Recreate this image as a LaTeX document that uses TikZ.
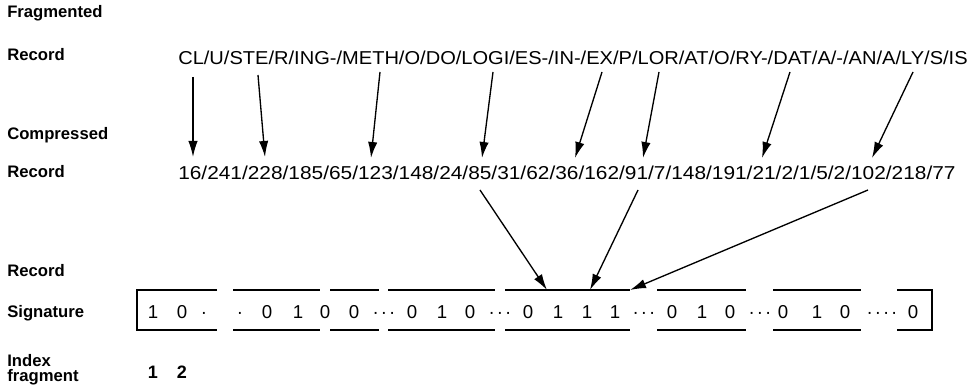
\documentclass[tikz,border=0pt]{standalone}
\usepackage{fontspec}
\setmainfont{Liberation Sans}
\usetikzlibrary{arrows.meta}
\newcommand{\mydots}[1]{\foreach \j in {1,...,#1}{\ifnum\j>1\hspace{1.5pt}\fi·}}
\begin{document}
\begin{tikzpicture}[x=0.75pt,y=-0.75pt,
  lbl/.style={anchor=base west, inner sep=0pt, font=\fontsize{12.5}{14}\selectfont\bfseries},
  rec/.style={anchor=base west, inner sep=0pt, font=\fontsize{14}{16}\selectfont},
  bit/.style={anchor=base, inner sep=0pt, font=\fontsize{14}{16}\selectfont},
  idx/.style={anchor=base, inner sep=0pt, font=\fontsize{13.5}{16}\selectfont\bfseries},
  arr/.style={-{Latex[length=12pt,width=7pt]}, line width=1pt},
  seg/.style={line width=1.6pt},
  segthick/.style={line width=2.2pt}]
\useasboundingbox (0,0) rectangle (979,391);
% left labels
\node[lbl] (l1) at (7,18) {Fragmented};
\node[lbl] (l2) at (7,61) {Record};
\node[lbl] (l3) at (7,140) {Compressed};
\node[lbl] (l4) at (7,178) {Record};
\node[lbl] (l5) at (7,277) {Record};
\node[lbl] (l6) at (7,318) {Signature};
\node[lbl] (l7) at (7,367) {Index};
\node[lbl] (l8) at (7,382) {fragment};
% records
\node[rec] (fr) at (178,65) {\resizebox{592pt}{\height}{CL/U/STE/R/ING-/METH/O/DO/LOGI/ES-/IN-/EX/P/LOR/AT/O/RY-/DAT/A/-/AN/A/LY/S/IS}};
\node[rec] (cr) at (178,180) {\resizebox{583pt}{\height}{16/241/228/185/65/123/148/24/85/31/62/36/162/91/7/148/191/21/2/1/5/2/102/218/77}};
% arrow ends
\coordinate (f1) at (193,77);  \coordinate (c1) at (193,157);
\coordinate (f2) at (258,75);  \coordinate (c2) at (265,157);
\coordinate (f3) at (380,72);  \coordinate (c3) at (371,158);
\coordinate (f4) at (493,72);  \coordinate (c4) at (482,158);
\coordinate (f5) at (602,72);  \coordinate (c5) at (575,158);
\coordinate (f6) at (659,72);  \coordinate (c6) at (643,158);
\coordinate (f7) at (790,72);  \coordinate (c7) at (762,158);
\coordinate (f8) at (913,72);  \coordinate (c8) at (872,158);
\foreach \i in {1,...,8} \draw[arr] (f\i) -- (c\i);
\coordinate (ca) at (480,190); \coordinate (sa) at (547,290);
\coordinate (cb) at (638,190); \coordinate (sb) at (590,290);
\coordinate (cc) at (868,190); \coordinate (sc) at (630,290);
% signature box
\draw[seg] (217,290) -- (137,290) -- (137,330) -- (217,330);
\foreach \a/\b in {233/320,330/379,388/495,657/746,773/861}{
  \draw[seg] (\a,290) -- (\b,290);
  \draw[seg] (\a,330) -- (\b,330);
}
\draw[segthick] (505,290) -- (630,290);
\draw[seg] (505,330) -- (630,330);
\draw[seg] (897,290) -- (932,290) -- (932,330) -- (897,330);
\draw[arr] (ca) -- (sa);
\draw[arr] (cb) -- (sb);
\draw[arr] (cc) -- (sc);
% bits
\foreach \x/\t [count=\k] in {153/1,182/0,204/{\mydots{1}},240/{\mydots{1}},267/0,298/1,325/0,354/0,384/{\mydots{3}},412/0,442/1,470/0,500/{\mydots{3}},528/0,558/1,587/1,615/1,644/{\mydots{3}},672/0,702/1,730/0,760/{\mydots{3}},783/0,817/1,845/0,882/{\mydots{4}},913/0}
  \node[bit] (b\k) at (\x,319) {\t};
\node[idx] (i1) at (153,379) {1};
\node[idx] (i2) at (182,379) {2};
\end{tikzpicture}
\end{document}
